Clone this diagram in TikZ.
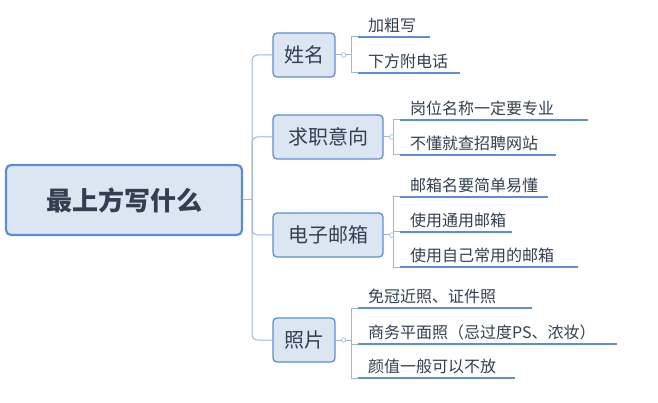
\documentclass[tikz,border=0pt]{standalone}
\usepackage{fontspec}
\setmainfont{Noto Sans CJK SC}
\usetikzlibrary{positioning,calc}
\definecolor{boxblue}{HTML}{5B8FD0}
\definecolor{boxfill}{HTML}{DCE6F3}
\definecolor{linkgray}{HTML}{9DB5D6}
\definecolor{textdark}{HTML}{333F50}
\tikzset{
	root/.style = {draw=boxblue, line width=2.2pt, fill=boxfill, rounded corners=5pt, minimum width=236pt, minimum height=70pt, font=\fontsize{26}{28}\selectfont\bfseries, text=textdark},
	topic/.style = {draw=boxblue, line width=1.3pt, fill=boxfill, rounded corners=4pt, minimum height=44pt, inner xsep=6pt, font=\fontsize{20}{22}\selectfont, text=textdark},
	leaf/.style = {anchor=south west, inner xsep=10pt, inner ysep=4pt, font=\fontsize{16}{18}\selectfont, text=textdark},
	link/.style = {draw=linkgray, line width=1pt, rounded corners=5pt},
	uline/.style = {draw=boxblue, line width=1.8pt},
	knob/.style = {circle, draw=linkgray, fill=white, inner sep=1.6pt, line width=0.6pt}
}
\begin{document}
\begin{tikzpicture}[x=1pt,y=-1pt]
	\useasboundingbox (0,0) rectangle (658,403);
	% root
	\node (top) [root] at (124,200) {最上方写什么};
	\node (name) [topic, minimum width=62pt] at (304,55) {姓名};
	\node (job) [topic, minimum width=110pt] at (328,137) {求职意向};
	\node (mail) [topic, minimum width=110pt] at (328,235) {电子邮箱};
	\node (photo) [topic, minimum width=62pt] at (304,340) {照片};
	% trunk
	\coordinate (tr) at (252,200);
	\draw[link] (top.east) -- (tr);
	\foreach \t in {name,job,mail,photo}
		\draw[link] (tr) |- (\t.west);
	% leaves: topic / bracket x / first y / last y / list of (y, text, end)
	\foreach \t/\bx/\ya/\yb/\items in {
		name/351/37/73/{37/加粗写/430,73/下方附电话/460},
		job/393/120/155/{120/岗位名称一定要专业/588,155/不懂就查招聘网站/556},
		mail/393/197/267/{197/邮箱名要简单易懂/548,232/使用通用邮箱/512,267/使用自己常用的邮箱/578},
		photo/351/308/378/{308/免冠近照、证件照/532,344/商务平面照（忌过度PS、浓妆）/617,378/颜值一般可以不放/515}} {
		\draw[link, rounded corners=0pt] (\t.east) -- (\bx,0 |- \t.east);
		\draw[link, rounded corners=0pt] (\bx,\ya) -- (\bx,\yb);
		\node[knob] at ($(\t.east)+(8,0)$) {};
		\foreach \y/\txt/\e in \items {
			\draw[link, rounded corners=0pt] (\bx,\y) -- (\bx+7,\y);
			\draw[uline] (\bx+7,\y) -- (\e,\y);
			\node[leaf] at (\bx+7,\y) {\txt};
		}
	}
\end{tikzpicture}
\end{document}
